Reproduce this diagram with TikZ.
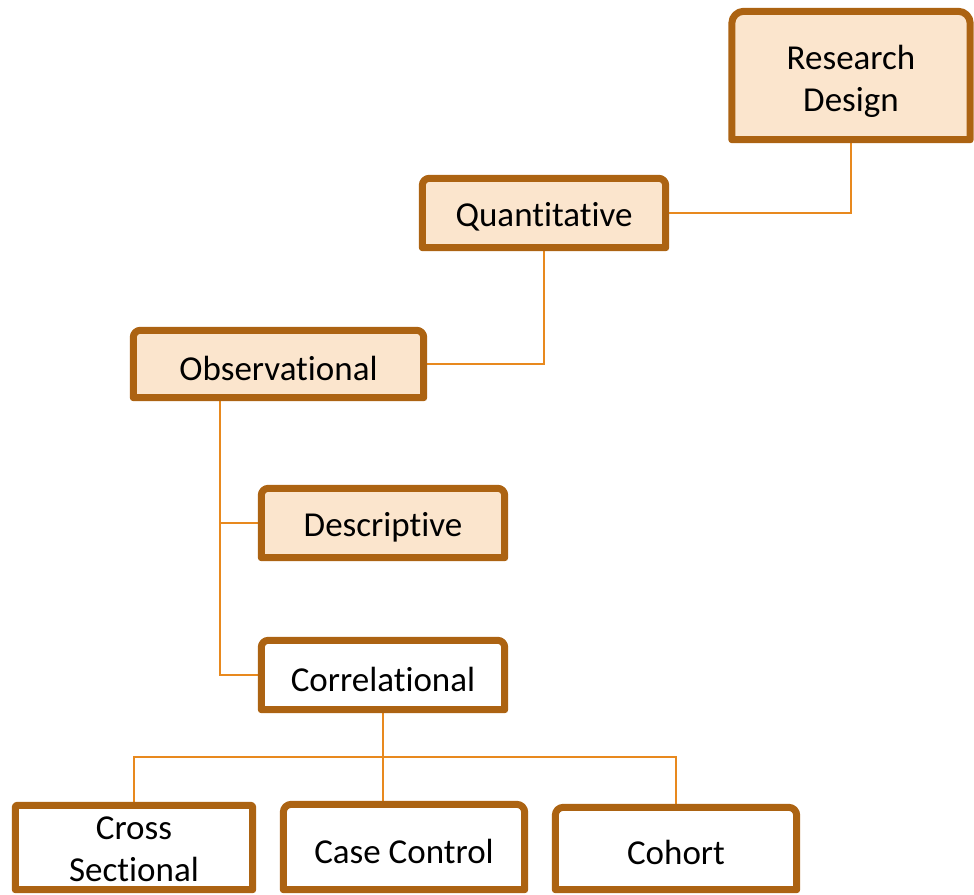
\documentclass[tikz,border=0pt]{standalone}
\usepackage{fontspec}
\setmainfont{Carlito}[Ligatures=CommonOff]
\usetikzlibrary{backgrounds,calc}
\definecolor{framec}{RGB}{172,99,18}
\definecolor{fillc}{RGB}{251,229,205}
\definecolor{linkc}{RGB}{232,137,30}
\newcommand\topframe[3]{%
  \draw[frame, fill=#3] (#1.south west) -- ([yshift=-#2]#1.north west)
    arc[start angle=180,end angle=90,radius=#2] -- ([xshift=-#2]#1.north east)
    arc[start angle=90,end angle=0,radius=#2] -- (#1.south east) -- cycle;}
\tikzset{
  txtlbl/.style={inner sep=0pt, align=center, yshift=-4pt, font=\fontsize{35pt}{42pt}\selectfont},
  boxnode/.style={inner sep=0pt, label={[txtlbl]center:#1}},
  frame/.style={draw=framec, line width=7pt, line join=round},
  link/.style={draw=linkc, line width=2.5pt}
}
\begin{document}
\begin{tikzpicture}[x=1pt,y=-1pt]
\useasboundingbox (0,0) rectangle (974,894);
\node[inner sep=0pt, label={[txtlbl,yshift=-2pt]center:{Research\\Design}}, minimum width=238pt, minimum height=128pt] (rd) at (851,75.5) {};
\node[boxnode={Quantitative}, minimum width=243pt, minimum height=69pt] (qt) at (544,213) {};
\node[boxnode={Observational}, minimum width=290pt, minimum height=67pt] (ob) at (278.5,364) {};
\node[boxnode={Descriptive}, minimum width=243pt, minimum height=69pt] (de) at (383,523) {};
\node[boxnode={Correlational}, minimum width=243pt, minimum height=69pt] (co) at (383,675) {};
\node[inner sep=0pt, label={[txtlbl,yshift=2pt]center:{Cross\\Sectional}}, minimum width=237pt, minimum height=84pt] (cs) at (134,847.5) {};
\node[boxnode={Case Control}, minimum width=241pt, minimum height=85pt] (cc) at (404,847) {};
\node[boxnode={Cohort}, minimum width=241pt, minimum height=82pt] (ch) at (676,848.5) {};
\coordinate (obx) at (220,400);
\coordinate (bus) at (383,757);
\begin{scope}[on background layer]
  \draw[link] (rd.south) |- (qt.east);
  \draw[link] (qt.south) |- (ob.east);
  \draw[link] (obx |- ob.south) |- (de.west);
  \draw[link] (obx |- ob.south) |- (co.west);
  \draw[link] (co.south) -- (co.south |- cc.north);
  \draw[link] (cs.north) |- (bus) -| (ch.north);
  \topframe{rd}{12pt}{fillc}
  \topframe{qt}{7pt}{fillc}
  \topframe{ob}{7pt}{fillc}
  \topframe{de}{7pt}{fillc}
  \topframe{co}{7pt}{white}
  \topframe{cs}{2pt}{white}
  \topframe{cc}{8pt}{white}
  \topframe{ch}{8pt}{white}
\end{scope}
\end{tikzpicture}
\end{document}
